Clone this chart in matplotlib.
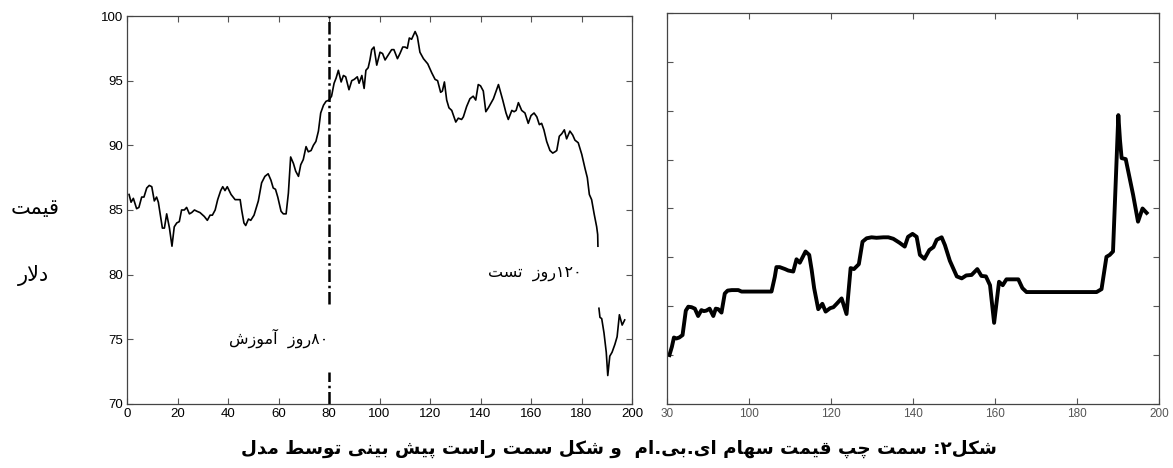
import re
import matplotlib
matplotlib.use("Agg")
import matplotlib.pyplot as plt

# left panel: IBM price, days 0..200
days = [0.8, 1.6, 2.5, 3.8, 4.7, 5.8, 6.7, 7.8, 8.8, 9.8, 10.8, 11.7, 12.4, 14.0, 14.8,
        15.7, 16.8, 17.8, 18.7, 19.7, 20.7, 21.6, 22.7, 23.6, 24.7, 25.6, 26.7, 27.7,
        28.9, 30.6, 31.8, 32.9, 33.8, 34.9, 35.9, 37.1, 37.9, 38.8, 39.7, 41.2, 42.8,
        44.8, 45.4, 46.3, 47.0, 48.1, 49.0, 50.3, 52.0, 53.3, 54.6, 55.9, 57.0, 57.9,
        58.8, 59.7, 61.0, 61.9, 63.0, 63.9, 64.8, 65.9, 66.8, 67.9, 68.8, 69.8, 70.9,
        71.8, 72.9, 73.8, 74.8, 75.8, 76.7, 77.8, 78.8, 80.0, 81.0, 82.0, 82.8, 83.7,
        84.8, 85.7, 86.6, 87.9, 89.0, 90.0, 91.2, 91.9, 93.0, 93.9, 94.6, 95.5, 96.2,
        96.9, 97.8, 98.9, 100.2, 101.2, 102.2, 103.5, 104.8, 105.7, 107.1, 108.1, 109.2,
        110.1, 111.0, 111.8, 112.7, 114.1, 115.0, 116.0, 117.4, 119.1, 120.7, 122.0,
        123.0, 124.2, 124.9, 125.7, 126.6, 127.5, 128.6, 130.2, 131.2, 132.5, 133.2,
        134.5, 135.8, 137.1, 138.1, 139.1, 140.0, 141.1, 142.1, 143.1, 145.1, 147.1,
        148.8, 150.1, 151.0, 152.4, 153.3, 154.1, 155.0, 156.3, 157.6, 158.9, 160.0,
        161.2, 162.3, 163.3, 164.2, 165.1, 166.2, 167.5, 168.6, 169.5, 170.2, 171.2,
        172.2, 173.2, 174.1, 175.4, 176.5, 177.4, 178.7, 180.1, 181.4, 182.3, 183.1,
        184.0, 185.0, 186.0, 186.4, 186.5]
price = [86.2, 85.6, 85.9, 85.1, 85.2, 86.0, 86.0, 86.7, 86.9, 86.8, 85.7, 86.0, 85.6, 83.6,
         83.6, 84.7, 83.6, 82.2, 83.7, 84.0, 84.1, 85.0, 85.0, 85.2, 84.7, 84.8, 85.0, 84.9,
         84.8, 84.5, 84.2, 84.6, 84.6, 85.0, 85.8, 86.5, 86.8, 86.5, 86.8, 86.2, 85.8, 85.8,
         85.0, 84.0, 83.8, 84.3, 84.2, 84.6, 85.7, 87.1, 87.6, 87.8, 87.3, 86.7, 86.6, 86.0,
         84.9, 84.7, 84.7, 86.3, 89.1, 88.6, 88.0, 87.6, 88.5, 88.9, 89.9, 89.5, 89.6, 90.0,
         90.3, 91.1, 92.5, 93.1, 93.4, 93.5, 93.8, 94.8, 95.2, 95.8, 94.9, 95.4, 95.3, 94.3,
         95.0, 95.1, 95.3, 94.8, 95.4, 94.4, 95.8, 96.0, 96.6, 97.4, 97.6, 96.2, 97.2, 97.1,
         96.6, 97.0, 97.4, 97.4, 96.7, 97.1, 97.6, 97.6, 97.5, 98.3, 98.2, 98.8, 98.4, 97.2,
         96.7, 96.3, 95.6, 95.1, 95.0, 94.1, 94.2, 94.9, 93.5, 92.9, 92.7, 91.8, 92.1, 92.0,
         92.2, 93.0, 93.6, 93.8, 93.5, 94.7, 94.6, 94.2, 92.6, 92.9, 93.6, 94.7, 93.5, 92.5,
         92.0, 92.7, 92.6, 92.7, 93.3, 92.7, 92.5, 91.7, 92.3, 92.5, 92.2, 91.6, 91.7, 91.2,
         90.3, 89.6, 89.4, 89.5, 89.6, 90.7, 90.9, 91.2, 90.5, 91.1, 90.8, 90.4, 90.2, 89.3,
         88.2, 87.5, 86.2, 85.8, 84.7, 83.7, 83.1, 82.2]
tail_days = [186.9, 187.3, 188.0, 188.9, 189.8, 190.4, 191.2, 192.1, 193.2, 194.1, 195.0,
             196.1, 197.1]
tail_price = [77.4, 76.7, 76.6, 75.5, 74.0, 72.2, 73.7, 74.0, 74.6, 75.2, 76.9, 76.1, 76.5]

# right panel: model prediction (unlabelled y scale)
pred_days = [80.6, 81.2, 81.7, 82.3, 83.0, 83.8, 84.6, 85.2, 86.0, 86.8, 87.6, 88.4, 89.0,
             89.6, 90.4, 91.3, 91.9, 92.5, 93.3, 94.1, 94.8, 95.8, 97.4, 98.2, 105.5, 106.3,
             106.7, 107.5, 108.8, 109.6, 110.8, 111.6, 112.4, 113.8, 114.7, 115.3, 115.9,
             116.9, 117.9, 118.7, 119.8, 120.6, 121.4, 122.6, 123.8, 124.8, 125.6, 126.8,
             127.7, 128.7, 129.9, 131.1, 132.8, 134.0, 135.2, 136.7, 138.0, 138.8, 139.9,
             140.9, 141.7, 142.8, 144.0, 145.0, 145.8, 147.0, 147.8, 149.0, 150.7, 151.9,
             153.0, 154.3, 155.7, 156.7, 157.8, 158.8, 159.8, 161.0, 161.9, 162.8, 165.7,
             166.7, 167.7, 184.8, 186.0, 187.2, 188.0, 188.8, 190.1, 190.5, 190.9, 191.9,
             193.7, 194.9, 196.0, 197.0]
pred = [1.00, 1.17, 1.36, 1.34, 1.36, 1.41, 1.91, 1.99, 1.98, 1.95, 1.80, 1.92, 1.90, 1.91,
        1.95, 1.80, 1.95, 1.94, 1.87, 2.26, 2.32, 2.33, 2.33, 2.30, 2.30, 2.60, 2.80, 2.80,
        2.76, 2.73, 2.71, 2.96, 2.89, 3.12, 3.05, 2.74, 2.37, 1.94, 2.05, 1.89, 1.96, 1.98,
        2.05, 2.16, 1.84, 2.78, 2.76, 2.86, 3.32, 3.39, 3.41, 3.40, 3.41, 3.41, 3.38, 3.30,
        3.22, 3.42, 3.48, 3.42, 3.05, 2.97, 3.15, 3.21, 3.36, 3.41, 3.25, 2.93, 2.61, 2.57,
        2.63, 2.64, 2.76, 2.62, 2.61, 2.43, 1.66, 2.50, 2.43, 2.55, 2.55, 2.37, 2.29, 2.29,
        2.35, 3.01, 3.05, 3.12, 5.91, 5.40, 5.03, 5.01, 4.28, 3.73, 4.00, 3.91]

left_xticks = [0, 20, 40, 60, 80, 100, 120, 140, 160, 180, 200]
left_yticks = [70, 75, 80, 85, 90, 95, 100]
right_xticks = [80, 100, 120, 140, 160, 180, 200]
right_xlabels = ['30', '100', '120', '140', '160', '180', '200']
right_yticks = [0, 1, 2, 3, 4, 5, 6, 7, 8]

ylabel_top = 'قیمت'
ylabel_bottom = 'دلار'
train_label = '۸۰روز  آموزش'
test_label = '۱۲۰روز  تست'
caption = 'شکل۲: سمت چپ قیمت سهام ای.بی.ام  و شکل سمت راست پیش بینی توسط مدل'

# matplotlib 3.10 has no arabic shaping, so pick presentation forms by hand
FORMS = {
    'ا': '\uFE8D\uFE8E', 'آ': '\uFE81\uFE82', 'د': '\uFEA9\uFEAA', 'ر': '\uFEAD\uFEAE',
    'ز': '\uFEAF\uFEB0', 'و': '\uFEED\uFEEE',
    'ب': '\uFE8F\uFE90\uFE91\uFE92', 'پ': '\uFB56\uFB57\uFB58\uFB59',
    'ت': '\uFE95\uFE96\uFE97\uFE98', 'چ': '\uFB7A\uFB7B\uFB7C\uFB7D',
    'س': '\uFEB1\uFEB2\uFEB3\uFEB4', 'ش': '\uFEB5\uFEB6\uFEB7\uFEB8',
    'ط': '\uFEC1\uFEC2\uFEC3\uFEC4', 'ق': '\uFED5\uFED6\uFED7\uFED8',
    'ک': '\uFB8E\uFB8F\uFB90\uFB91', 'ل': '\uFEDD\uFEDE\uFEDF\uFEE0',
    'م': '\uFEE1\uFEE2\uFEE3\uFEE4', 'ن': '\uFEE5\uFEE6\uFEE7\uFEE8',
    'ه': '\uFEE9\uFEEA\uFEEB\uFEEC', 'ی': '\uFBFC\uFBFD\uFBFE\uFBFF',
}


def fa(text):
    out = []
    i = 0
    n = len(text)
    while i < n:
        c = text[i]
        if c not in FORMS:
            out.append(c)
            i += 1
            continue
        prev = text[i - 1] if i > 0 else ''
        nxt = text[i + 1] if i + 1 < n else ''
        joined = prev in FORMS and len(FORMS[prev]) == 4
        if c == 'ل' and nxt == 'ا':
            out.append('\uFEFC' if joined else '\uFEFB')
            i += 2
            continue
        f = FORMS[c]
        nxt_join = len(f) == 4 and nxt in FORMS
        if joined and nxt_join:
            out.append(f[3])
        elif joined:
            out.append(f[1])
        elif nxt_join:
            out.append(f[2])
        else:
            out.append(f[0])
        i += 1
    vis = ''.join(out)[::-1]
    return re.sub('[۰-۹]+', lambda m: m.group()[::-1], vis)


plt.rcParams['font.family'] = ['Liberation Sans', 'DejaVu Sans']

fig = plt.figure(figsize=(11.73, 4.68), dpi=100)
ax1 = fig.add_axes([0.1083, 0.1368, 0.4305, 0.829])
ax2 = fig.add_axes([0.5686, 0.1368, 0.4194, 0.8355])

# left
ax1.plot(days, price, color='black', lw=1.2)
ax1.plot(tail_days, tail_price, color='black', lw=1.2)
ax1.plot([80, 80], [77.7, 100], color='black', lw=1.8, linestyle=(0, (5, 1.5, 1, 1.5)))
ax1.plot([80, 80], [70, 72.5], color='black', lw=1.8, linestyle=(0, (5, 1.5, 1, 1.5)))
ax1.set_xlim(0, 200)
ax1.set_ylim(70, 100)
ax1.set_xticks(left_xticks)
ax1.set_yticks(left_yticks)
ax1.text(79.6, 75.1, fa(train_label), ha='right', va='center', fontsize=11.5,
         family='DejaVu Sans')
ax1.text(180.2, 80.1, fa(test_label), ha='right', va='center', fontsize=11.5,
         family='DejaVu Sans')

# right
ax2.plot(pred_days, pred, color='black', lw=2.8, solid_joinstyle='round')
ax2.set_xlim(80, 200)
ax2.set_ylim(0, 8)
ax2.set_xticks(right_xticks)
ax2.set_xticklabels(right_xlabels)
ax2.set_yticks(right_yticks)
ax2.set_yticklabels([])

for ax in (ax1, ax2):
    ax.tick_params(direction='in', top=True, right=True, length=4, width=0.8,
                   color='#555555', labelsize=9.5, pad=3)
    for s in ax.spines.values():
        s.set_color('#444444')
        s.set_linewidth(0.9)
ax2.tick_params(labelsize=8.5, labelcolor='#555555')

fig.text(35 / 1173, 1 - 208 / 468, fa(ylabel_top), ha='center', va='center',
         fontsize=15, family='DejaVu Sans')
fig.text(33 / 1173, 1 - 276 / 468, fa(ylabel_bottom), ha='center', va='center',
         fontsize=15, family='DejaVu Sans')
fig.text(619 / 1173, 1 - 449 / 468, fa(caption), ha='center', va='center',
         fontsize=13.2, fontweight='bold', family='DejaVu Sans')

fig.savefig('out.png', dpi=100)
